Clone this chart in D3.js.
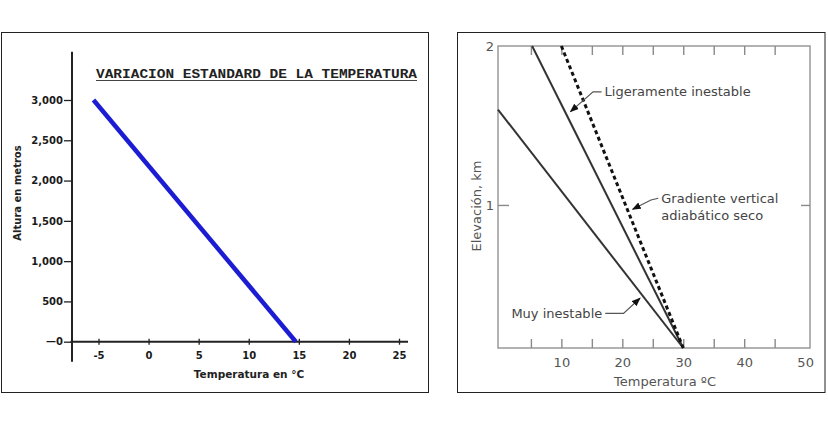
<!DOCTYPE html>
<html>
<head>
<meta charset="utf-8">
<script src="https://cdn.jsdelivr.net/npm/d3@7"></script>
<style>
  body { margin: 0; background: #fff; }
  svg { display: block; }
</style>
</head>
<body>
<div id="chart"></div>
<script>
// left chart: standard temperature variation
var stdTemp = [-5.5, 14.7];
var stdAlt = [3000, 0];
var stdXTicks = [-5, 0, 5, 10, 15, 20, 25];
var stdYTicks = [0, 500, 1000, 1500, 2000, 2500, 3000];

// right chart: lapse rates
var muyTemp = [-0.4, 30];
var muyElev = [1.6, 0.1];
var ligTemp = [5.2, 30];
var ligElev = [2, 0.1];
var secoTemp = [10, 30];
var secoElev = [2, 0.1];
var rateXLabels = [10, 20, 30, 40, 50];
var rateXTicks = [5, 10, 15, 20, 25, 30, 35, 40, 45];
var rateYTicks = [1, 2];

// annotation leaders, in data units (temperature, elevation)
var noteText = [["Ligeramente inestable"], ["Gradiente vertical", "adiabático seco"], ["Muy inestable"]];
var noteLeaderT = [[16.6, 15.2, 11.5], [25.9, 24.7, 21.7], [17.2, 20.2, 22.9]];
var noteLeaderZ = [[1.712, 1.712, 1.587], [1.042, 1.031, 0.973], [0.318, 0.318, 0.413]];

function start(){
    var svg = d3.select("#chart").append("svg")
        .attr("width", 828)
        .attr("height", 436);
    svg.append("rect").attr("width", 828).attr("height", 436).attr("fill", "#fff");

    var defs = svg.append("defs");
    defs.append("marker")
        .attr("id", "arrow")
        .attr("markerUnits", "userSpaceOnUse")
        .attr("markerWidth", 9)
        .attr("markerHeight", 7)
        .attr("refX", 8)
        .attr("refY", 3.5)
        .attr("orient", "auto")
        .append("path")
        .attr("d", "M0,0 L9,3.5 L0,7 Z")
        .attr("fill", "#111");

    plot_left(svg);
    plot_right(svg);
}

function plot_left(svg){
    var g = svg.append("g");
    g.append("rect")
        .attr("x", 1.5).attr("y", 32.5)
        .attr("width", 427).attr("height", 360)
        .attr("fill", "none").attr("stroke", "#222").attr("stroke-width", 1);

    var xScale = d3.scaleLinear().domain([-5, 25]).range([98.5, 399]);
    var yScale = d3.scaleLinear().domain([0, 3000]).range([341.7, 100]);
    var axisX = 72;
    var axisY = yScale(0);

    // axis lines
    g.append("line")
        .attr("x1", axisX).attr("x2", axisX)
        .attr("y1", yScale(3600)).attr("y2", yScale(-250))
        .attr("stroke", "#222").attr("stroke-width", 2);
    g.append("line")
        .attr("x1", xScale(-7.8)).attr("x2", xScale(25.9))
        .attr("y1", axisY).attr("y2", axisY)
        .attr("stroke", "#222").attr("stroke-width", 2);

    var yAxis = g.append("g")
        .attr("transform", `translate(${axisX},0)`)
        .call(d3.axisLeft(yScale)
            .tickValues(stdYTicks)
            .tickSize(8)
            .tickPadding(1)
            .tickFormat(function(d){ return d == 0 ? "\u20140" : d3.format(",")(d); }));
    yAxis.select(".domain").remove();
    yAxis.selectAll("line").attr("stroke", "#222").attr("stroke-width", 1.3);
    yAxis.selectAll("text")
        .style("font-family", "DejaVu Sans")
        .style("font-weight", "bold")
        .style("font-size", "10px")
        .attr("fill", "#1a1a1a");

    var xAxis = g.append("g")
        .attr("transform", `translate(0,${axisY})`)
        .call(d3.axisBottom(xScale)
            .tickValues(stdXTicks)
            .tickSize(0)
            .tickPadding(10)
            .tickFormat(function(d){ return String(d); }));
    xAxis.select(".domain").remove();
    xAxis.selectAll("line")
        .attr("y1", -3).attr("y2", 3)
        .attr("stroke", "#222").attr("stroke-width", 1.3);
    xAxis.selectAll("text")
        .style("font-family", "DejaVu Sans")
        .style("font-weight", "bold")
        .style("font-size", "10px")
        .attr("fill", "#1a1a1a");

    // the lapse line
    var pts = stdTemp.map(function(t, i){ return [t, stdAlt[i]]; });
    g.append("path")
        .datum(pts)
        .attr("d", d3.line().x(function(d){ return xScale(d[0]); }).y(function(d){ return yScale(d[1]); }))
        .attr("fill", "none")
        .attr("stroke", "#1c1cd2")
        .attr("stroke-width", 4.5);

    // title
    g.append("text")
        .attr("x", 96).attr("y", 78)
        .attr("textLength", 321)
        .attr("lengthAdjust", "spacingAndGlyphs")
        .style("font-family", "Liberation Mono")
        .style("font-weight", "bold")
        .style("font-size", "13px")
        .attr("fill", "#222")
        .text("VARIACION ESTANDARD DE LA TEMPERATURA");
    g.append("line")
        .attr("x1", 96).attr("x2", 417)
        .attr("y1", 80.5).attr("y2", 80.5)
        .attr("stroke", "#444").attr("stroke-width", 1);

    g.append("text")
        .attr("transform", "translate(18,193) rotate(-90)")
        .attr("text-anchor", "middle")
        .attr("dominant-baseline", "middle")
        .style("font-family", "DejaVu Sans")
        .style("font-weight", "bold")
        .style("font-size", "10px")
        .attr("fill", "#222")
        .text("Altura en metros");

    g.append("text")
        .attr("x", 249).attr("y", 378)
        .attr("text-anchor", "middle")
        .style("font-family", "DejaVu Sans")
        .style("font-weight", "bold")
        .style("font-size", "10.5px")
        .attr("fill", "#222")
        .text("Temperatura en °C");
}

function plot_right(svg){
    var g = svg.append("g");
    g.append("rect")
        .attr("x", 457.5).attr("y", 32.5)
        .attr("width", 367.5).attr("height", 360)
        .attr("fill", "none").attr("stroke", "#222").attr("stroke-width", 1);

    var left = 498, right = 810, top = 46, bottom = 348;
    var xScale = d3.scaleLinear().domain([-0.4, 50.8]).range([left, right]);
    var yScale = d3.scaleLinear().domain([0.1, 2]).range([bottom, top]);
    var tickColor = "#8a8a8a";
    var labelColor = "#555";

    g.append("rect")
        .attr("x", left).attr("y", top)
        .attr("width", right - left).attr("height", bottom - top)
        .attr("fill", "none").attr("stroke", "#999").attr("stroke-width", 1.5);

    var bottomTicks = g.append("g")
        .attr("transform", `translate(0,${bottom})`)
        .call(d3.axisBottom(xScale).tickValues(rateXTicks).tickSize(-9).tickFormat(""));
    var topTicks = g.append("g")
        .attr("transform", `translate(0,${top})`)
        .call(d3.axisTop(xScale).tickValues(rateXTicks).tickSize(-9).tickFormat(""));
    var leftTicks = g.append("g")
        .attr("transform", `translate(${left},0)`)
        .call(d3.axisLeft(yScale).tickValues([1]).tickSize(-11).tickFormat(""));
    var rightTicks = g.append("g")
        .attr("transform", `translate(${right},0)`)
        .call(d3.axisRight(yScale).tickValues([1]).tickSize(-9).tickFormat(""));
    [bottomTicks, topTicks, leftTicks, rightTicks].forEach(function(a){
        a.select(".domain").remove();
        a.selectAll("line").attr("stroke", tickColor).attr("stroke-width", 1.4);
    });

    var xLabels = g.append("g")
        .attr("transform", `translate(0,${bottom})`)
        .call(d3.axisBottom(xScale).tickValues(rateXLabels).tickSize(0).tickPadding(10)
            .tickFormat(d3.format("d")));
    var yLabels = g.append("g")
        .attr("transform", `translate(${left},0)`)
        .call(d3.axisLeft(yScale).tickValues(rateYTicks).tickSize(0).tickPadding(4)
            .tickFormat(d3.format("d")));
    [xLabels, yLabels].forEach(function(a){
        a.select(".domain").remove();
        a.selectAll("text")
            .style("font-family", "DejaVu Sans")
            .style("font-size", "13px")
            .attr("fill", labelColor);
    });

    var line = d3.line()
        .x(function(d){ return xScale(d[0]); })
        .y(function(d){ return yScale(d[1]); });
    function pairs(ts, zs){ return ts.map(function(t, i){ return [t, zs[i]]; }); }

    g.append("path").datum(pairs(muyTemp, muyElev))
        .attr("d", line).attr("fill", "none")
        .attr("stroke", "#333").attr("stroke-width", 2);
    g.append("path").datum(pairs(ligTemp, ligElev))
        .attr("d", line).attr("fill", "none")
        .attr("stroke", "#333").attr("stroke-width", 2);
    g.append("path").datum(pairs(secoTemp, secoElev))
        .attr("d", line).attr("fill", "none")
        .attr("stroke", "#111").attr("stroke-width", 3)
        .attr("stroke-dasharray", "4,3");

    // annotations
    noteText.forEach(function(lines, i){
        var pts = pairs(noteLeaderT[i], noteLeaderZ[i]);
        g.append("path").datum(pts)
            .attr("d", line).attr("fill", "none")
            .attr("stroke", "#555").attr("stroke-width", 1.2)
            .attr("marker-end", "url(#arrow)");
        var x0 = xScale(pts[0][0]);
        var y0 = yScale(pts[0][1]);
        var isEnd = i == 2;
        var txt = g.append("text")
            .attr("x", isEnd ? x0 - 3 : x0 + 3)
            .attr("y", y0)
            .attr("text-anchor", isEnd ? "end" : "start")
            .style("font-family", "DejaVu Sans")
            .style("font-size", "13px")
            .attr("fill", "#444");
        lines.forEach(function(s, j){
            txt.append("tspan")
                .attr("x", isEnd ? x0 - 3 : x0 + 3)
                .attr("dy", j == 0 ? "0.35em" : "1.35em")
                .text(s);
        });
    });

    g.append("text")
        .attr("transform", "translate(477,206) rotate(-90)")
        .attr("text-anchor", "middle")
        .attr("dominant-baseline", "middle")
        .style("font-family", "DejaVu Sans")
        .style("font-size", "13px")
        .attr("fill", labelColor)
        .text("Elevación, km");

    g.append("text")
        .attr("x", 665).attr("y", 386)
        .attr("text-anchor", "middle")
        .style("font-family", "DejaVu Sans")
        .style("font-size", "13px")
        .attr("fill", labelColor)
        .text("Temperatura ºC");
}

start();
</script>
</body>
</html>
